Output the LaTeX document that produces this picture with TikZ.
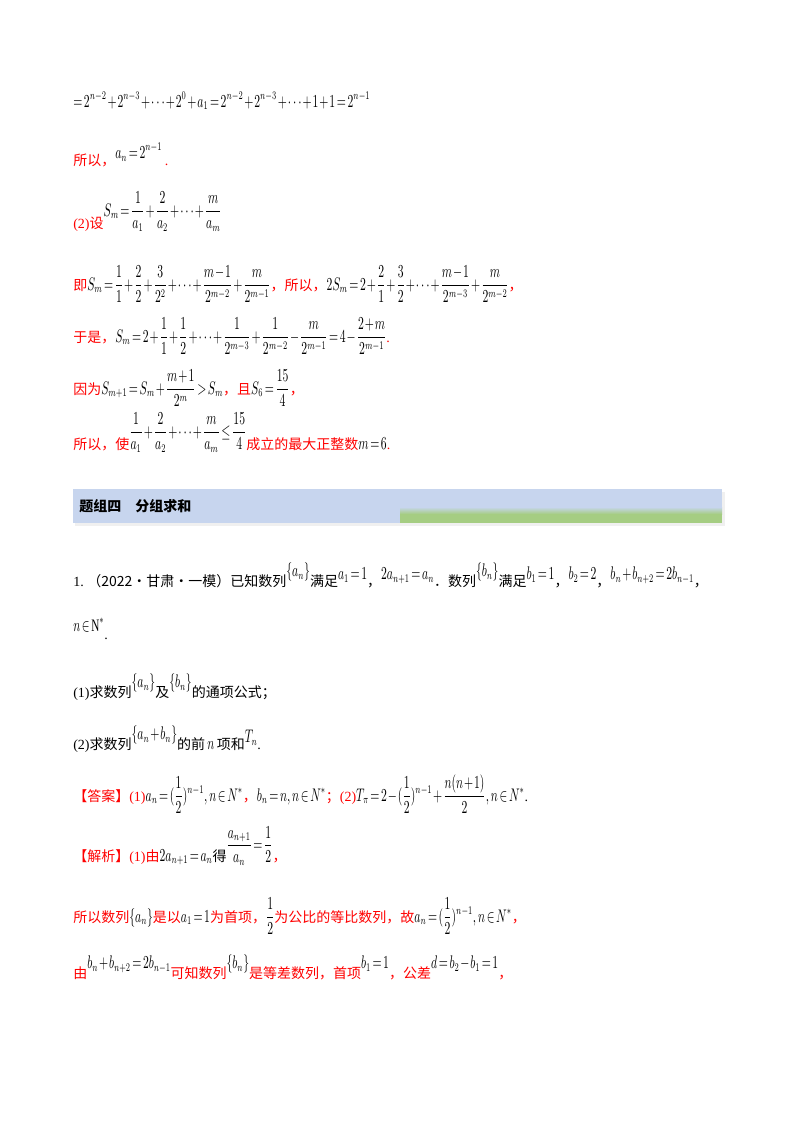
\documentclass[tikz,border=0pt]{standalone}
\usepackage{amsmath,amssymb,graphicx}
\usepackage{fontspec}
\setmainfont{Liberation Serif}
\newfontfamily\cjk{Noto Sans CJK SC}
\newcommand{\zh}[1]{{\cjk #1}}
\newcommand{\mm}[1]{\scalebox{0.8}[1.25]{$\medmuskip=1.5mu\thickmuskip=2.5mu\displaystyle #1$}}
\begin{document}
\begin{tikzpicture}[x=0.75pt,y=-0.75pt,
 tx/.style={anchor=base west,inner sep=0pt,font=\fontsize{10.5}{12}\selectfont},
 rx/.style={tx,text=red}]
\useasboundingbox (0,0) rectangle (800,1132);
\fill[white] (0,0) rectangle (800,1132);
\node[tx] (l1) at (73,107) {\mm{=2^{n-2}+2^{n-3}+\cdots+2^{0}+a_1=2^{n-2}+2^{n-3}+\cdots+1+1=2^{n-1}}};
\node[rx] (l2) at (73,165) {\zh{所以，}\raisebox{5pt}{\color{black}\mm{a_n=2^{n-1}}}\hspace{2pt}.};
\node[rx] (l3) at (73,228) {(2)\zh{设}\raisebox{9pt}{\color{black}\mm{S_m=\dfrac{1}{a_1}+\dfrac{2}{a_2}+\cdots+\dfrac{m}{a_m}}}};
\node[rx] (l4) at (73,290) {\zh{即}\color{black}\mm{S_m=\dfrac11+\dfrac22+\dfrac3{2^2}+\cdots+\dfrac{m-1}{2^{m-2}}+\dfrac{m}{2^{m-1}}}\color{red}\zh{，所以，}\color{black}\mm{2S_m=2+\dfrac21+\dfrac32+\cdots+\dfrac{m-1}{2^{m-3}}+\dfrac{m}{2^{m-2}}}\color{red}\zh{，}};
\node[rx] (l5) at (73,342) {\zh{于是，}\color{black}\mm{S_m=2+\dfrac11+\dfrac12+\cdots+\dfrac1{2^{m-3}}+\dfrac1{2^{m-2}}-\dfrac{m}{2^{m-1}}=4-\dfrac{2+m}{2^{m-1}}}\color{red}.};
\node[rx] (l6) at (73,394) {\zh{因为}\color{black}\mm{S_{m+1}=S_m+\dfrac{m+1}{2^m}>S_m}\color{red}\zh{，且}\color{black}\mm{S_6=\dfrac{15}{4}}\color{red}\zh{，}};
\node[rx] (l7) at (73,449) {\zh{所以，使}\raisebox{9pt}{\color{black}\mm{\dfrac1{a_1}+\dfrac2{a_2}+\cdots+\dfrac{m}{a_m}\le\dfrac{15}{4}}}\zh{成立的最大正整数}\color{black}\mm{m=6}\color{red}.};
% header band
\fill[gray!12] (75,492) rectangle (725,526);
\fill[fill={rgb,255:red,199;green,213;blue,238}] (73,489) rectangle (722,523);
\shade[top color={rgb,255:red,199;green,213;blue,238},bottom color={rgb,255:red,165;green,205;blue,130}] (400,507) rectangle (722,514);
\fill[fill={rgb,255:red,165;green,205;blue,130}] (400,514) rectangle (722,523);
\node[tx,font=\fontsize{10.5}{12}\selectfont\cjk\bfseries] (hd) at (79,511) {题组四\quad 分组求和};
\node[tx] (q1) at (73,586) {1.\ \zh{（2022·甘肃·一模）已知数列}\raisebox{7pt}{\mm{\{a_n\}}}\zh{满足}\raisebox{5pt}{\mm{a_1=1}}\zh{，}\raisebox{5pt}{\mm{2a_{n+1}=a_n}}\zh{．数列}\raisebox{7pt}{\mm{\{b_n\}}}\zh{满足}\raisebox{5pt}{\mm{b_1=1}}\zh{，}\raisebox{5pt}{\mm{b_2=2}}\zh{，}\raisebox{5pt}{\mm{b_n+b_{n+2}=2b_{n-1}}}\zh{，}};
\node[tx] (q2) at (73,639) {\raisebox{6pt}{\mm{n\in\mathrm{N}^*}}.};
\node[tx] (q3) at (73,697) {(1)\zh{求数列}\raisebox{7pt}{\mm{\{a_n\}}}\zh{及}\raisebox{7pt}{\mm{\{b_n\}}}\zh{的通项公式；}};
\node[tx] (q4) at (73,749) {(2)\zh{求数列}\raisebox{7pt}{\mm{\{a_n+b_n\}}}\zh{的前}\,\mm{n}\,\zh{项和}\raisebox{5pt}{\mm{T_n}}.};
\node[rx] (an) at (73,801) {\zh{【答案】}(1)\color{black}\mm{a_n=(\dfrac12)^{n-1},n\in N^*}\color{red}\zh{，}\color{black}\mm{b_n=n,n\in N^*}\color{red}\zh{；}(2)\color{black}\mm{T_\pi=2-(\dfrac12)^{n-1}+\dfrac{n(n+1)}{2},n\in N^*}.};
\node[rx] (ex) at (73,861) {\zh{【解析】}(1)\zh{由}\color{black}\mm{2a_{n+1}=a_n}\zh{得}\raisebox{8pt}{\mm{\dfrac{a_{n+1}}{a_n}=\dfrac12}}\color{red}\zh{，}};
\node[rx] (e2) at (73,922) {\zh{所以数列}\color{black}\mm{\{a_n\}}\color{red}\zh{是以}\color{black}\mm{a_1=1}\color{red}\zh{为首项，}\color{black}\mm{\dfrac12}\color{red}\zh{为公比的等比数列，故}\color{black}\mm{a_n=(\dfrac12)^{n-1},n\in N^*}\color{red}\zh{，}};
\node[rx] (e3) at (73,978) {\zh{由}\raisebox{7pt}{\color{black}\mm{b_n+b_{n+2}=2b_{n-1}}}\zh{可知数列}\raisebox{7pt}{\color{black}\mm{\{b_n\}}}\zh{是等差数列，首项}\raisebox{7pt}{\color{black}\mm{b_1=1}}\zh{，公差}\raisebox{7pt}{\color{black}\mm{d=b_2-b_1=1}}\zh{，}};
\end{tikzpicture}
\end{document}
